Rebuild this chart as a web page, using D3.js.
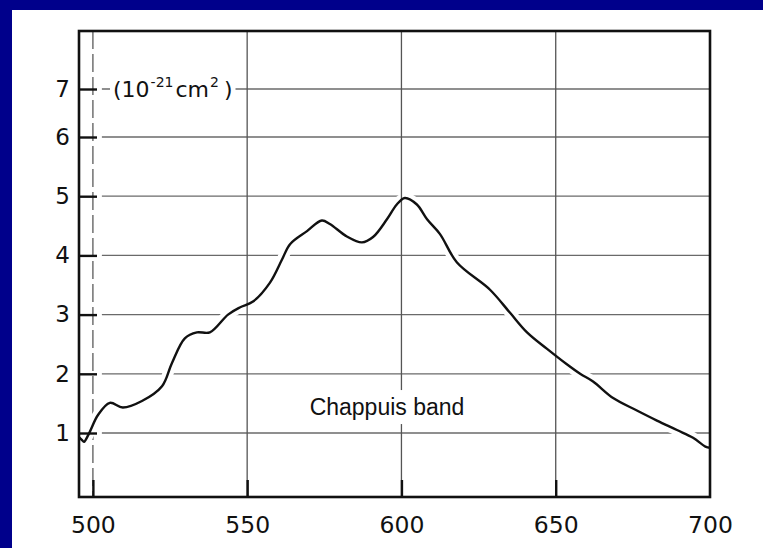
<!DOCTYPE html>
<html><head><meta charset="utf-8">
<script src="https://cdn.jsdelivr.net/npm/d3@7"></script>
<style>
html,body{margin:0;padding:0;background:#00008B;}
svg{display:block;}
</style></head>
<body>
<script>
// ---- data ----
const wavelength = [495.5,496.5,497.1,499.0,501.6,505.5,509.7,515.9,522.4,525.6,529.8,533.7,537.9,543.8,547.6,551.9,557.4,561.3,563.9,569.4,574.2,576.8,582.3,587.2,590.8,595.3,598.5,601.1,605.0,608.3,612.5,618.0,628.7,635.2,640.7,647.2,653.6,657.9,662.1,668.6,676.3,682.8,689.3,694.5,698.5,700];
const crossSection = [0.93,0.88,0.85,1.02,1.30,1.51,1.43,1.54,1.79,2.18,2.60,2.70,2.70,3.00,3.12,3.22,3.54,3.93,4.19,4.41,4.59,4.53,4.32,4.22,4.31,4.61,4.86,4.97,4.86,4.61,4.36,3.88,3.42,3.03,2.70,2.42,2.16,2.00,1.87,1.59,1.38,1.21,1.05,0.92,0.77,0.75];
const xTicks = [500,550,600,650,700];
const yTicks = [1,2,3,4,5,6,7];
const unitLabel = ["(10","-21","cm","2",")"];
const bandLabel = "Chappuis band";

const W=763,H=548;
const svg=d3.select("body").append("svg").attr("width",W).attr("height",H);
svg.append("rect").attr("x",0).attr("y",0).attr("width",W).attr("height",H).attr("fill","#00008B");
svg.append("rect").attr("x",12).attr("y",10).attr("width",W-12).attr("height",H-10).attr("fill","#fff");

const L=79,R=710,T=31,B=497;
const x=d3.scaleLinear().domain([495.5,700]).range([L,R]);
const y=d3.scaleLinear().domain([1,6,7]).range([433,137,89]);

const g=svg.append("g");
// horizontal gridlines
g.append("g").selectAll("line").data(yTicks).join("line")
  .attr("x1",x(500)+9).attr("x2",R).attr("y1",d=>y(d)).attr("y2",d=>y(d))
  .attr("stroke","#6a6a6a").attr("stroke-width",1.3);
// dashed vertical at 500
g.append("line").attr("x1",x(500)).attr("x2",x(500)).attr("y1",T).attr("y2",B)
  .attr("stroke","#7a7a7a").attr("stroke-width",1.6).attr("stroke-dasharray","18,5");

const line=d3.line().x((d,i)=>x(wavelength[i])).y(d=>y(d)).curve(d3.curveCatmullRom.alpha(0.5));
// white halo breaking the horizontal gridlines
g.append("path").datum(crossSection).attr("d",line).attr("fill","none")
  .attr("stroke","#fff").attr("stroke-width",11);

// vertical gridlines
g.append("g").selectAll("line").data(xTicks.filter(v=>v>500&&v<700)).join("line")
  .attr("x1",d=>x(d)).attr("x2",d=>x(d)).attr("y1",T).attr("y2",B)
  .attr("stroke","#555").attr("stroke-width",1.3);

// texts with white backgrounds
function boxedText(t,padX,padY){
  const bb=t.node().getBBox();
  t.node().parentNode.insertBefore(
    svg.append("rect").attr("x",bb.x-padX).attr("y",bb.y-padY).attr("width",bb.width+2*padX).attr("height",bb.height+2*padY).attr("fill","#fff").node(),
    t.node());
}
const FONT="DejaVu Sans, sans-serif";
const tg=svg.append("g");
const ut=tg.append("text").attr("x",113).attr("y",y(7)).attr("dy",8)
  .attr("font-family",FONT).attr("font-size",22).attr("fill","#111");
ut.append("tspan").text(unitLabel[0]);
ut.append("tspan").text(unitLabel[1]).attr("font-size",14).attr("dy",-10).attr("dx",1);
ut.append("tspan").text(unitLabel[2]).attr("dy",10).attr("dx",2);
ut.append("tspan").text(unitLabel[3]).attr("font-size",14).attr("dy",-10).attr("dx",1);
ut.append("tspan").text(unitLabel[4]).attr("dy",10).attr("dx",5);
boxedText(ut,3,0);

const bt=tg.append("text").attr("x",387).attr("y",407).attr("dy","0.35em")
  .attr("text-anchor","middle").attr("font-family","Liberation Sans, Arial, sans-serif")
  .attr("font-size",23).attr("fill","#111").text(bandLabel);
boxedText(bt,6,4);

// curve
svg.append("path").datum(crossSection).attr("d",line).attr("fill","none")
  .attr("stroke","#111").attr("stroke-width",2.4).attr("stroke-linejoin","round");

// axes
const ax=svg.append("g").attr("transform",`translate(0,${B})`)
  .call(d3.axisBottom(x).tickValues(xTicks).tickSize(-17).tickPadding(19).tickFormat(d3.format("d")));
ax.select(".domain").remove();
ax.selectAll(".tick line").attr("stroke","#111").attr("stroke-width",2.4)
  .filter(d=>d===700).remove();
ax.selectAll("text").attr("font-family",FONT).attr("font-size",23.5).attr("fill","#111");

const ay=svg.append("g").attr("transform",`translate(${L},0)`)
  .call(d3.axisLeft(y).tickValues(yTicks).tickSize(-18).tickPadding(9).tickFormat(d3.format("d")));
ay.select(".domain").remove();
ay.selectAll(".tick line").attr("stroke","#111").attr("stroke-width",2.4);
ay.selectAll("text").attr("font-family",FONT).attr("font-size",23).attr("fill","#111");

// frame
svg.append("rect").attr("x",L).attr("y",T).attr("width",R-L).attr("height",B-T)
  .attr("fill","none").attr("stroke","#111").attr("stroke-width",2.6);
</script>
</body></html>
